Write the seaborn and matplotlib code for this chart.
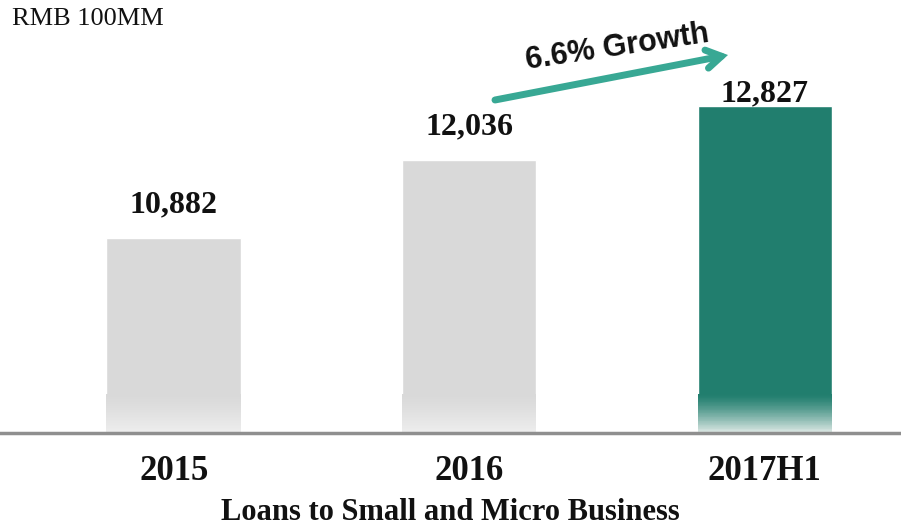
import numpy as np
import pandas as pd
import matplotlib
matplotlib.use("Agg")
import matplotlib.pyplot as plt
import matplotlib.colors as mcolors
from matplotlib.patches import Rectangle
import seaborn as sns

# Loans to small and micro business, RMB 100MM
periods = ["2015", "2016", "2017H1"]
loans = [10882, 12036, 12827]
value_labels = ["10,882", "12,036", "12,827"]
bar_colors = ["#d9d9d9", "#d9d9d9", "#217e6e"]
fade_colors = ["#eeeeee", "#eeeeee", "#dfe9e6"]
growth_text = "6.6% Growth"

sns.set_theme(style="white")
plt.rcParams["font.family"] = ["Liberation Serif", "DejaVu Serif"]

df = pd.DataFrame({"period": periods, "loans": loans})

fig = plt.figure(figsize=(9.01, 5.29), dpi=100)
ax = fig.add_axes([0.0, (529 - 432.5) / 529, 1.0, 432.5 / 529])

bar_w = 0.455
sns.barplot(data=df, x="period", y="loans", hue="period", palette=bar_colors,
            width=bar_w, legend=False, ax=ax, saturation=1.0)

y_min, y_max = 8020, 14390
ax.set_xlim(-0.5877, 2.4608)
ax.set_ylim(y_min, y_max)

# soft fade toward the baseline at the foot of each bar, drawn as thin slices
fade_h = 560
n_steps = 48
bars = sorted(ax.patches, key=lambda p: p.get_x())
for patch, c0, c1 in zip(bars, bar_colors, fade_colors):
    a = np.array(mcolors.to_rgb(c0))
    b = np.array(mcolors.to_rgb(c1))
    x0, w = patch.get_x(), patch.get_width()
    step = fade_h / n_steps
    for k in range(n_steps):
        t = ((n_steps - k - 0.5) / n_steps) ** 1.3
        ax.add_patch(Rectangle((x0, y_min + k * step), w, step * 1.02,
                               facecolor=a * (1 - t) + b * t, edgecolor="none",
                               linewidth=0, zorder=3))

# value labels above bars
offsets = [33, 33, 12]
for i, (v, lab) in enumerate(zip(loans, value_labels)):
    ax.annotate(lab, xy=(i, v), xytext=(0, offsets[i]), textcoords="offset pixels",
                ha="center", va="center", fontsize=23, fontweight="bold",
                color="#111111", zorder=5)

for s in ["top", "right", "left"]:
    ax.spines[s].set_visible(False)
ax.spines["bottom"].set_color("#8f8f8f")
ax.spines["bottom"].set_linewidth(2.5)
ax.spines["bottom"].set_zorder(6)
ax.set_yticks([])
ax.set_xlabel("")
ax.set_ylabel("")
ax.tick_params(axis="x", length=0, pad=16)
for t in ax.get_xticklabels():
    t.set_fontsize(25)
    t.set_fontweight("bold")
    t.set_color("#111111")

# growth arrow
arrow_color = "#38a894"
fig_ax = fig.add_axes([0, 0, 1, 1], facecolor="none")
fig_ax.set_xlim(0, 901)
fig_ax.set_ylim(529, 0)
fig_ax.axis("off")
fig_ax.annotate("", xy=(728, 55), xytext=(495, 100),
                arrowprops=dict(arrowstyle="->,head_length=0.9,head_width=0.55",
                                color=arrow_color, lw=5, shrinkA=0, shrinkB=0,
                                capstyle="round", joinstyle="miter"))
fig_ax.text(617, 47, growth_text, rotation=8.5, ha="center", va="center",
            fontsize=22, fontweight="bold", family=["Liberation Sans", "DejaVu Sans"],
            color="#111111", rotation_mode="anchor")

fig.text(12 / 901, 1 - 19 / 529, "RMB 100MM", ha="left", va="center",
         fontsize=19, color="#111111")
fig.text(450 / 901, 1 - 513 / 529, "Loans to Small and Micro Business",
         ha="center", va="center", fontsize=22, fontweight="bold", color="#111111")

fig.savefig("out.png", dpi=100)
